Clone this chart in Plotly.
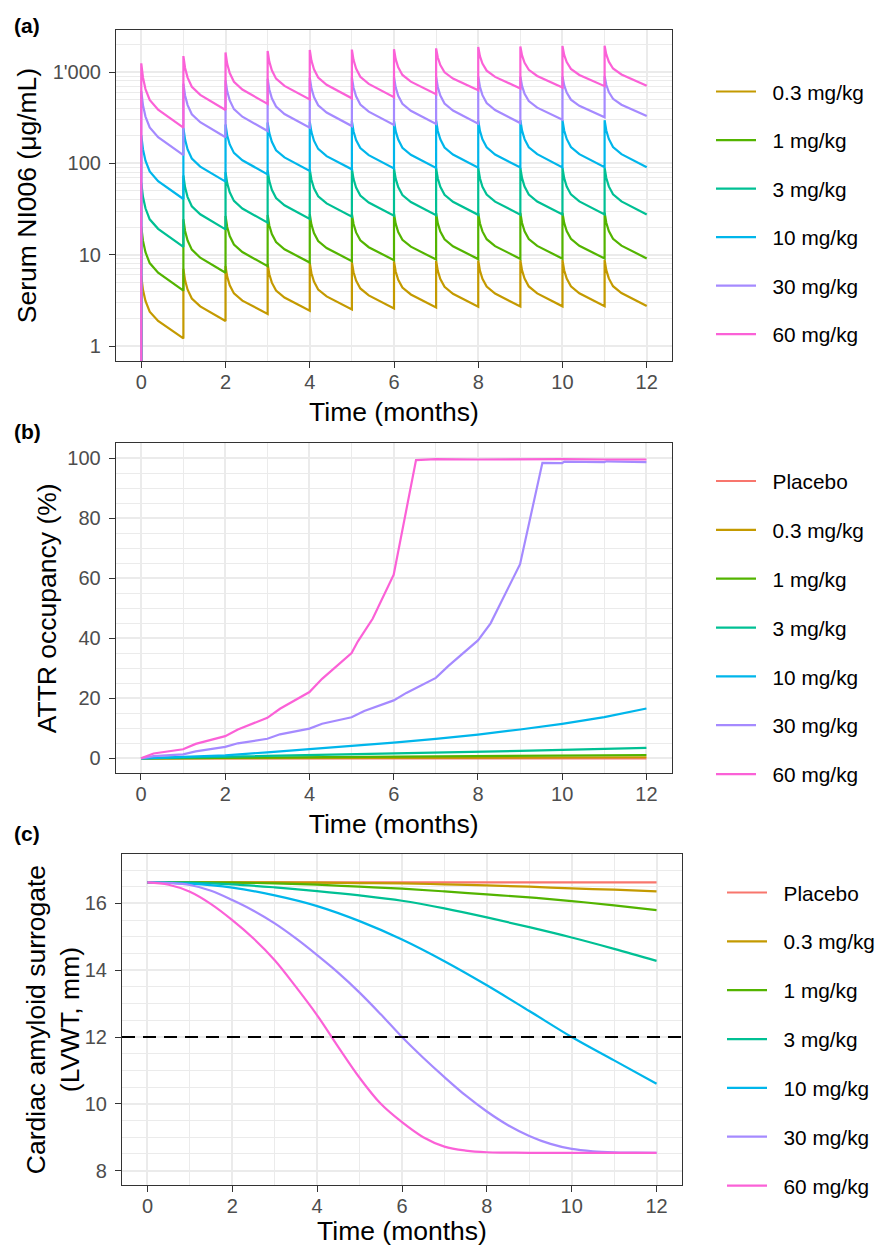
import plotly.graph_objects as go

# ---------------- data ----------------
doses = ["0.3 mg/kg", "1 mg/kg", "3 mg/kg", "10 mg/kg", "30 mg/kg", "60 mg/kg"]
groups = ["Placebo"] + doses
colors = ["#F8766D", "#C49A00", "#53B400", "#00C094", "#00B6EB", "#A58AFF", "#FB61D7"]

# Panel (a): serum concentration, per monthly dosing cycle:
# [peak, value at +0.04, +0.1, +0.2, +0.4 months] and trough at end of cycle
pk_offsets = [0, 0.04, 0.1, 0.2, 0.4]
pk_start = 0.001
pk_cycles_03 = [[5.84, 4.13, 3.11, 2.38, 1.88], [7.0, 5.24, 4.14, 3.31, 2.72], [7.5, 5.75, 4.63, 3.77, 3.14],
                [7.9, 6.10, 4.94, 4.05, 3.39], [8.1, 6.26, 5.07, 4.16, 3.49], [8.3, 6.42, 5.20, 4.27, 3.58],
                [8.45, 6.55, 5.31, 4.36, 3.67], [8.6, 6.66, 5.41, 4.44, 3.73], [8.65, 6.70, 5.44, 4.47, 3.75],
                [8.7, 6.73, 5.47, 4.49, 3.77], [8.72, 6.75, 5.48, 4.50, 3.78], [8.74, 6.77, 5.50, 4.52, 3.80]]
pk_troughs_03 = [1.21, 1.88, 2.24, 2.44, 2.52, 2.58, 2.65, 2.70, 2.71, 2.72, 2.73, 2.74]
pk_cycles_1 = [[20.3, 14.23, 10.64, 8.09, 6.35], [24.5, 18.20, 14.27, 11.35, 9.27], [26.5, 20.08, 15.99, 12.90, 10.68],
               [27.2, 20.89, 16.84, 13.73, 11.47], [27.7, 21.36, 17.27, 14.13, 11.83], [28.0, 21.65, 17.54, 14.38, 12.07],
               [28.2, 21.86, 17.74, 14.57, 12.24], [28.4, 22.03, 17.90, 14.71, 12.36], [28.5, 22.11, 17.97, 14.77, 12.41],
               [28.6, 22.20, 18.04, 14.84, 12.47], [28.7, 22.27, 18.10, 14.89, 12.51], [28.8, 22.35, 18.16, 14.93, 12.55]]
pk_troughs_1 = [4.04, 6.35, 7.5, 8.2, 8.5, 8.7, 8.85, 8.95, 9.0, 9.05, 9.08, 9.1]
pk_cycles_3 = [[61.4, 43.0, 32.2, 24.4, 19.2], [73.6, 54.6, 42.7, 33.9, 27.7], [80.3, 60.7, 48.2, 38.8, 32.0],
               [83.8, 64.0, 51.3, 41.7, 34.7], [86.0, 66.1, 53.3, 43.5, 36.4], [87.4, 67.3, 54.4, 44.5, 37.2],
               [88.1, 68.0, 55.0, 45.0, 37.7], [88.5, 68.3, 55.3, 45.3, 38.0], [88.9, 68.7, 55.5, 45.5, 38.1],
               [89.1, 68.8, 55.7, 45.6, 38.2], [89.3, 69.0, 55.8, 45.7, 38.3], [89.5, 69.1, 55.9, 45.8, 38.3]]
pk_troughs_3 = [12.2, 18.9, 22.4, 24.6, 26.0, 26.7, 27.1, 27.3, 27.4, 27.5, 27.5, 27.5]
pk_cycles_10 = [[204, 143, 107, 81.4, 63.9], [245, 182, 142, 113, 92.1], [267, 202, 161, 130, 108],
                [280, 214, 172, 139, 116], [286, 220, 177, 144, 120], [290, 223, 180, 147, 123],
                [292, 225, 182, 148, 124], [294, 226, 183, 149, 125], [295, 227, 183, 150, 125],
                [296, 228, 184, 150, 126], [297, 229, 185, 151, 126], [297, 229, 185, 151, 126]]
pk_troughs_10 = [40.7, 63, 75.8, 82.4, 86, 88, 89, 89.5, 90, 90.3, 90.5, 90.6]
pk_cycles_30 = [[620, 434, 325, 247, 193], [745, 553, 434, 345, 282], [815, 615, 488, 392, 324],
                [845, 644, 516, 418, 347], [865, 662, 532, 432, 360], [875, 672, 541, 441, 368],
                [883, 680, 549, 449, 376], [889, 685, 553, 452, 379], [892, 689, 558, 457, 383],
                [895, 704, 578, 480, 407], [900, 717, 595, 498, 427], [904, 724, 604, 509, 438]]
pk_troughs_30 = [123, 193, 226, 246, 256, 263, 270, 272, 276, 300, 319, 330]
pk_cycles_60 = [[1245, 871, 650, 494, 387], [1495, 1108, 868, 690, 562], [1635, 1229, 974, 781, 643],
                [1700, 1299, 1043, 846, 705], [1745, 1333, 1071, 870, 725], [1760, 1352, 1089, 888, 742],
                [1775, 1382, 1128, 929, 784], [1817, 1440, 1189, 993, 847], [1880, 1493, 1237, 1035, 884],
                [1905, 1518, 1260, 1057, 905], [1925, 1541, 1284, 1081, 929], [1945, 1557, 1298, 1093, 939]]
pk_troughs_60 = [246, 384, 447, 500, 515, 530, 570, 630, 660, 678, 700, 708]
pk_cycles = [pk_cycles_03, pk_cycles_1, pk_cycles_3, pk_cycles_10, pk_cycles_30, pk_cycles_60]
pk_troughs = [pk_troughs_03, pk_troughs_1, pk_troughs_3, pk_troughs_10, pk_troughs_30, pk_troughs_60]

# Panel (b): ATTR occupancy (%)
months = list(range(13))
occ_t_pla = months
occ_pla = [0] * 13
occ_t_03 = months
occ_03 = [0, 0.03, 0.06, 0.09, 0.12, 0.15, 0.18, 0.2, 0.23, 0.26, 0.29, 0.32, 0.35]
occ_t_1 = months
occ_1 = [0, 0.1, 0.2, 0.3, 0.4, 0.5, 0.57, 0.65, 0.75, 0.85, 0.95, 1.02, 1.1]
occ_t_3 = months
occ_3 = [0, 0.25, 0.5, 0.75, 1.0, 1.25, 1.5, 1.8, 2.1, 2.45, 2.8, 3.1, 3.5]
occ_t_10 = months
occ_10 = [0, 0.5, 1.0, 2.0, 3.0, 4.0, 5.2, 6.5, 7.9, 9.6, 11.5, 13.7, 16.6]
occ_t_30 = [0, 0.3, 1, 1.3, 2, 2.3, 3, 3.3, 4, 4.3, 5, 5.3, 6, 6.3, 7, 7.3, 8, 8.3, 9, 9.53, 10, 10.05, 11, 11.05, 12]
occ_30 = [0, 0.7, 1.3, 2.3, 3.8, 5.0, 6.5, 8.0, 9.9, 11.5, 13.7, 15.8, 19.3, 21.8, 26.8, 30.8, 39.3, 45.0,
          64.7, 98.5, 98.4, 98.9, 98.7, 99.0, 98.7]
occ_t_60 = [0, 0.3, 1, 1.3, 2, 2.3, 3, 3.3, 4, 4.3, 5, 5.15, 5.5, 6, 6.53, 7, 8, 9, 10, 11, 12]
occ_60 = [0, 1.6, 3.0, 4.8, 7.4, 9.6, 13.5, 16.5, 22.1, 26.5, 35.1, 39.0, 46.5, 61.2, 99.4, 99.7, 99.6, 99.7,
          99.7, 99.6, 99.6]
occ_t = [occ_t_pla, occ_t_03, occ_t_1, occ_t_3, occ_t_10, occ_t_30, occ_t_60]
occ_v = [occ_pla, occ_03, occ_1, occ_3, occ_10, occ_30, occ_60]

# Panel (c): LVWT surrogate (mm)
lv_t_mon = months
lv_pla = [16.63] * 13
lv_03 = [16.63, 16.63, 16.63, 16.63, 16.62, 16.61, 16.60, 16.57, 16.54, 16.50, 16.45, 16.41, 16.36]
lv_1 = [16.63, 16.63, 16.62, 16.60, 16.56, 16.50, 16.44, 16.36, 16.27, 16.18, 16.07, 15.94, 15.80]
lv_3 = [16.63, 16.62, 16.57, 16.48, 16.37, 16.24, 16.08, 15.85, 15.58, 15.29, 14.98, 14.64, 14.28]
lv_10 = [16.63, 16.59, 16.47, 16.24, 15.92, 15.47, 14.92, 14.27, 13.55, 12.78, 12.00, 11.30, 10.60]
lv_t_half = [0, 0.5, 1, 1.5, 2, 2.5, 3, 3.5, 4, 4.5, 5, 5.5, 6, 6.5, 7, 7.5, 8, 8.5, 9, 9.5, 10, 10.5, 11, 11.5, 12]
lv_30 = [16.63, 16.61, 16.55, 16.38, 16.10, 15.78, 15.40, 14.95, 14.45, 13.92, 13.33, 12.68, 12.00, 11.38,
         10.80, 10.25, 9.77, 9.36, 9.04, 8.80, 8.65, 8.58, 8.55, 8.54, 8.53]
lv_60 = [16.63, 16.56, 16.35, 15.98, 15.50, 14.95, 14.30, 13.50, 12.65, 11.70, 10.78, 10.00, 9.45, 9.00,
         8.72, 8.60, 8.55, 8.54, 8.53, 8.53, 8.53, 8.53, 8.53, 8.53, 8.53]
lv_t = [lv_t_mon] * 5 + [lv_t_half, lv_t_half]
lv_v = [lv_pla, lv_03, lv_1, lv_3, lv_10, lv_30, lv_60]
lvwt_threshold = 12

x_ticks = [0, 2, 4, 6, 8, 10, 12]
pk_ticks = [1, 10, 100, 1000]
pk_ticktext = ["1", "10", "100", "1'000"]

# ---------------- figure ----------------
FONT = "Liberation Sans, Arial, sans-serif"
W, H = 876, 1246
LW = 2.2
PAD = "\u00a0\u00a0"
fig = go.Figure()

for i, name in enumerate(doses):
    xs, ys = [0.0], [pk_start]
    for k, (cyc, tr) in enumerate(zip(pk_cycles[i], pk_troughs[i])):
        for off, v in zip(pk_offsets, cyc):
            xs.append(k + off)
            ys.append(v)
        xs.append(k + 1)
        ys.append(tr)
    fig.add_trace(go.Scatter(x=xs, y=ys, mode="lines", name=PAD + name, legend="legend", legendgroup="a" + name,
                             line=dict(color=colors[i + 1], width=LW), xaxis="x", yaxis="y"))

for i, name in enumerate(groups):
    fig.add_trace(go.Scatter(x=occ_t[i], y=occ_v[i], mode="lines", name=PAD + name, legend="legend2",
                             legendgroup="b" + name, line=dict(color=colors[i], width=LW),
                             xaxis="x2", yaxis="y2"))

for i, name in enumerate(groups):
    fig.add_trace(go.Scatter(x=lv_t[i], y=lv_v[i], mode="lines", name=PAD + name, legend="legend3",
                             legendgroup="c" + name,
                             line=dict(color=colors[i], width=LW, shape="spline", smoothing=1.0),
                             xaxis="x3", yaxis="y3"))


def px_x(a, b):
    return [a / W, b / W]


def px_y(top, bottom):
    return [1 - bottom / H, 1 - top / H]


GRID = "#EBEBEB"
AX = "#333333"
tickfont = dict(family=FONT, size=20, color="#4D4D4D")
titlefont = dict(family=FONT, size=26.5, color="black")


def xaxis(domain, anchor):
    return dict(domain=domain, anchor=anchor, range=[-0.6, 12.6], tickvals=x_ticks, ticks="outside", ticklen=6,
                tickwidth=1.1, tickcolor=AX, showline=True, mirror=True, linecolor=AX, linewidth=1.1,
                showgrid=True, gridcolor=GRID, gridwidth=1.6, zeroline=False, tickfont=tickfont,
                ticklabelstandoff=-3, automargin=False,
                minor=dict(dtick=1, tick0=0, showgrid=True, gridcolor=GRID, gridwidth=0.8),
                title=dict(text="Time (months)", font=titlefont, standoff=10))


def yaxis_common(domain, anchor):
    return dict(domain=domain, anchor=anchor, ticks="outside", ticklen=6, tickwidth=1.1, tickcolor=AX,
                showline=True, mirror=True, linecolor=AX, linewidth=1.1, showgrid=True, gridcolor=GRID,
                gridwidth=1.6, zeroline=False, tickfont=tickfont, ticklabelstandoff=4, automargin=False)


ya = yaxis_common(px_y(30, 361), "x")
ya.update(type="log", range=[-0.164, 3.46], tickvals=pk_ticks, ticktext=pk_ticktext,
          minor=dict(tickvals=[m * 10 ** e for e in range(0, 4) for m in range(2, 10)], showgrid=True,
                     gridcolor=GRID, gridwidth=0.8),
          title=dict(text="Serum NI006 (μg/mL)", font=titlefont, standoff=8))
yb = yaxis_common(px_y(443.3, 773.3), "x2")
yb.update(range=[-5, 105], tickvals=[0, 20, 40, 60, 80, 100],
          minor=dict(dtick=5, tick0=0, showgrid=True, gridcolor=GRID, gridwidth=0.8),
          title=dict(text="ATTR occupancy (%)", font=titlefont, standoff=2))
yc = yaxis_common(px_y(854.3, 1185), "x3")
yc.update(range=[7.57, 17.47], tickvals=[8, 10, 12, 14, 16],
          minor=dict(dtick=0.5, tick0=0, showgrid=True, gridcolor=GRID, gridwidth=0.8))

legend_common = dict(xanchor="left", yanchor="top", xref="container", yref="container",
                     font=dict(family=FONT, size=20.8, color="black"),
                     bgcolor="rgba(0,0,0,0)", borderwidth=0, traceorder="grouped", tracegroupgap=18.8,
                     itemwidth=40)

label_font = dict(family=FONT, size=21, color="black")
fig.update_layout(
    width=W, height=H, margin=dict(l=0, r=0, t=0, b=0, autoexpand=False), autosize=False,
    paper_bgcolor="white", plot_bgcolor="white", font=dict(family=FONT),
    xaxis=xaxis(px_x(116, 672), "y"), yaxis=ya,
    xaxis2=xaxis(px_x(115.7, 671.7), "y2"), yaxis2=yb,
    xaxis3=xaxis(px_x(122, 682), "y3"), yaxis3=yc,
    legend=dict(legend_common, x=711 / W, y=1 - 71.5 / H, tracegroupgap=18.5),
    legend2=dict(legend_common, x=711 / W, y=1 - 461 / H),
    legend3=dict(legend_common, x=722 / W, y=1 - 872.5 / H),
    shapes=[dict(type="line", xref="x3 domain", x0=0, x1=1, yref="y3", y0=lvwt_threshold, y1=lvwt_threshold,
                 line=dict(color="black", width=2, dash="13px,8px"), layer="above")],
    annotations=[
        dict(text="<b>(a)</b>", x=11.7 / W, y=1 - 25 / H, xref="paper", yref="paper", xanchor="left",
             yanchor="middle", showarrow=False, font=label_font),
        dict(text="<b>(b)</b>", x=11.7 / W, y=1 - 432 / H, xref="paper", yref="paper", xanchor="left",
             yanchor="middle", showarrow=False, font=label_font),
        dict(text="<b>(c)</b>", x=11.7 / W, y=1 - 833 / H, xref="paper", yref="paper", xanchor="left",
             yanchor="middle", showarrow=False, font=label_font),
        dict(text="Cardiac amyloid surrogate<br>(LVWT, mm)", textangle=-90, x=52.5 / W, y=1 - 1019.7 / H,
             xref="paper", yref="paper", xanchor="center", yanchor="middle", showarrow=False,
             font=titlefont),
    ],
)

fig.write_html("out.html", config={"displayModeBar": False},
               post_script="document.body.style.margin='0';document.body.style.overflow='hidden';")
